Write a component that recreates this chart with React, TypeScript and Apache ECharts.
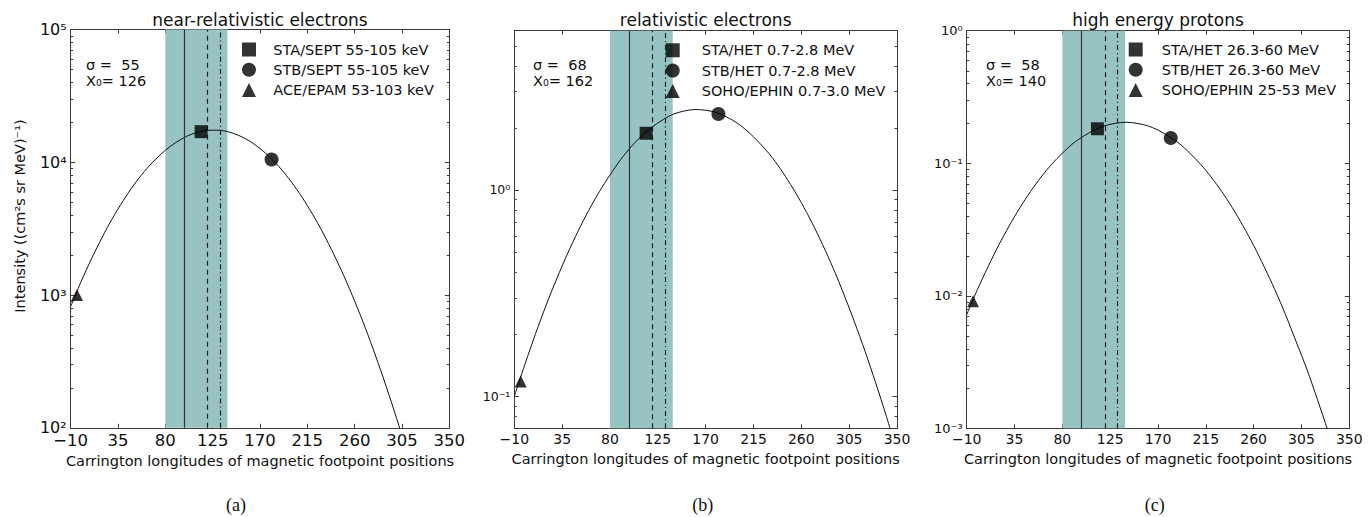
import React, { useEffect, useRef } from "react";
import * as echarts from "echarts";

// ---------- data ----------
const X_MIN = -10;
const X_MAX = 350;
const X_STEP = 45;

const TITLES = ["near-relativistic electrons", "relativistic electrons", "high energy protons"];
const SIGMAS = [55, 68, 58];
const X0S = [126, 162, 140];
const CAPTIONS = ["(a)", "(b)", "(c)"];

const Y_MIN = [100, 0.07, 0.001];
const Y_MAX = [100000, 5.9, 1];

// fitted curves
const CURVE_X = [-10, 0, 10, 20, 30, 40, 50, 60, 70, 80, 90, 100, 110, 120, 130, 140, 150, 160, 170, 180, 190, 200, 210, 220, 230, 240, 250, 260, 270, 280, 290, 300, 310, 320, 330, 340, 350];
const CURVE_A = [820, 1270, 1890, 2730, 3820, 5150, 6740, 8520, 10400, 12300, 14100, 15650, 16800, 17400, 17450, 16950, 15900, 14450, 12700, 10800, 8900, 7080, 5450, 4060, 2930, 2040, 1380, 900, 570, 347, 205, 117, 65, 35, 18, 9, 4.4];
const CURVE_B = [0.1, 0.143, 0.201, 0.277, 0.372, 0.49, 0.631, 0.795, 0.98, 1.18, 1.4, 1.62, 1.83, 2.02, 2.19, 2.33, 2.41, 2.45, 2.43, 2.37, 2.25, 2.1, 1.91, 1.7, 1.49, 1.27, 1.06, 0.867, 0.694, 0.543, 0.417, 0.312, 0.229, 0.165, 0.116, 0.08, 0.054];
const CURVE_C = [0.0072, 0.0111, 0.0165, 0.024, 0.0337, 0.0461, 0.0611, 0.0787, 0.0984, 0.119, 0.141, 0.16, 0.178, 0.192, 0.2, 0.204, 0.2, 0.192, 0.178, 0.16, 0.141, 0.119, 0.0984, 0.0787, 0.0611, 0.0461, 0.0337, 0.024, 0.0165, 0.0111, 0.0072, 0.0045, 0.0028, 0.00165, 0.00095, 0.00053, 0.00029];
const CURVES = [CURVE_A, CURVE_B, CURVE_C];

// spacecraft measurements
const NAMES_A = ["STA/SEPT 55-105 keV", "STB/SEPT 55-105 keV", "ACE/EPAM 53-103 keV"];
const NAMES_B = ["STA/HET 0.7-2.8 MeV", "STB/HET 0.7-2.8 MeV", "SOHO/EPHIN 0.7-3.0 MeV"];
const NAMES_C = ["STA/HET 26.3-60 MeV", "STB/HET 26.3-60 MeV", "SOHO/EPHIN 25-53 MeV"];
const NAMES = [NAMES_A, NAMES_B, NAMES_C];

const STA_X = [114, 114, 113];
const STA_Y = [17000, 1.88, 0.182];
const STB_X = [181, 182, 182];
const STB_Y = [10500, 2.33, 0.155];
const THIRD_X = [-4, -4, -4];
const THIRD_Y = [1000, 0.118, 0.0091];

// vertical markers (longitudes)
const BAND = [80, 139];
const SOLID_X = 98;
const DASHED_X = 120;
const DASHDOT_X = 132;

// log-axis minor tick values
const MINOR_A = [200, 300, 400, 500, 600, 700, 800, 900, 2000, 3000, 4000, 5000, 6000, 7000, 8000, 9000, 20000, 30000, 40000, 50000, 60000, 70000, 80000, 90000];
const MINOR_B = [0.08, 0.09, 0.2, 0.3, 0.4, 0.5, 0.6, 0.7, 0.8, 0.9, 2, 3, 4, 5];
const MINOR_C = [0.002, 0.003, 0.004, 0.005, 0.006, 0.007, 0.008, 0.009, 0.02, 0.03, 0.04, 0.05, 0.06, 0.07, 0.08, 0.09, 0.2, 0.3, 0.4, 0.5, 0.6, 0.7, 0.8, 0.9];
const MINORS = [MINOR_A, MINOR_B, MINOR_C];

// ---------- layout / style ----------
const LAYOUT = [
  { left: 70.7, top: 29.5, width: 378.6, height: 398.3 },
  { left: 514.3, top: 30.7, width: 382.7, height: 397.6 },
  { left: 966.7, top: 30.7, width: 382.6, height: 397.6 },
];
const XLABEL_SIZE = [16.5, 14, 14];
const YLABEL_SIZE = [16, 12.5, 13];
const LEGEND_POS = [
  { left: 242, top: 42, pad: 12.3 },
  { left: 665.7, top: 42.8, pad: 17 },
  { left: 1128.7, top: 42, pad: 14 },
];
const ANNOT_X = [86, 533, 986];
const CAPTION_X = [236, 702.7, 1154.7];
const FONT = "DejaVu Sans";
const AXIS_COLOR = "#3a3a3a";
const BAND_COLOR = "#97c3c3";

const SUP: Record<string, string> = {
  "-": "⁻", "0": "⁰", "1": "¹", "2": "²", "3": "³", "4": "⁴", "5": "⁵", "6": "⁶", "7": "⁷", "8": "⁸", "9": "⁹",
};
function powLabel(v: number): string {
  const l = Math.log10(v);
  const e = Math.round(l);
  if (Math.abs(l - e) > 1e-6) return "";
  return "10" + String(e).split("").map((c) => SUP[c]).join("");
}
function xLabel(v: number): string {
  return v < 0 ? "−" + Math.abs(v) : String(v);
}

function buildOption() {
  const grid: any[] = [];
  const xAxis: any[] = [];
  const yAxis: any[] = [];
  const series: any[] = [];
  const legend: any[] = [];
  const graphic: any[] = [];

  for (let i = 0; i < 3; i++) {
    const L = LAYOUT[i];
    grid.push({ left: L.left, top: L.top, width: L.width, height: L.height, containLabel: false });

    const xBase = {
      type: "value",
      gridIndex: i,
      min: X_MIN,
      max: X_MAX,
      interval: X_STEP,
      splitLine: { show: false },
      axisLine: { show: true, onZero: false, lineStyle: { color: AXIS_COLOR, width: 1 } },
      axisTick: { show: true, inside: true, length: 4, lineStyle: { color: AXIS_COLOR } },
    };
    xAxis.push({
      ...xBase,
      position: "bottom",
      name: "Carrington longitudes of magnetic footpoint positions",
      nameLocation: "middle",
      nameGap: 21,
      nameTextStyle: { fontFamily: FONT, fontSize: 14.5, color: "#111" },
      axisLabel: { show: true, margin: 4, formatter: xLabel, fontFamily: FONT, fontSize: XLABEL_SIZE[i], color: "#111" },
    });
    xAxis.push({ ...xBase, position: "top", axisLabel: { show: false } });

    const yBase = {
      type: "log",
      logBase: 10,
      gridIndex: i,
      min: Y_MIN[i],
      max: Y_MAX[i],
      splitLine: { show: false },
      axisLine: { show: true, onZero: false, lineStyle: { color: AXIS_COLOR, width: 1 } },
      axisTick: { show: true, inside: true, length: 4.5, lineStyle: { color: AXIS_COLOR } },
    };
    yAxis.push({
      ...yBase,
      position: "left",
      axisLabel: { show: true, margin: 4, formatter: powLabel, fontFamily: FONT, fontSize: YLABEL_SIZE[i], color: "#111" },
    });
    yAxis.push({ ...yBase, position: "right", axisLabel: { show: false } });

    // fitted curve with band and vertical lines
    series.push({
      type: "line",
      name: "fit" + i,
      xAxisIndex: 2 * i,
      yAxisIndex: 2 * i,
      data: CURVE_X.map((x, k) => [x, CURVES[i][k]]),
      showSymbol: false,
      smooth: 0.3,
      clip: true,
      silent: true,
      z: 3,
      lineStyle: { color: "#111", width: 1 },
      markArea: {
        silent: true,
        itemStyle: { color: BAND_COLOR, opacity: 1 },
        data: [[{ xAxis: BAND[0] }, { xAxis: BAND[1] }]],
      },
      markLine: {
        silent: true,
        symbol: "none",
        label: { show: false },
        animation: false,
        data: [
          { xAxis: SOLID_X, lineStyle: { type: "solid", color: "#333", width: 1.2 } },
          { xAxis: DASHED_X, lineStyle: { type: [5, 4], color: "#222", width: 1.2 } },
          { xAxis: DASHDOT_X, lineStyle: { type: [5, 3, 1.2, 3], color: "#222", width: 1.2 } },
        ],
      },
    });

    const pts = [
      { name: NAMES[i][0], symbol: "rect", size: 13, x: STA_X[i], y: STA_Y[i] },
      { name: NAMES[i][1], symbol: "circle", size: 14, x: STB_X[i], y: STB_Y[i] },
      { name: NAMES[i][2], symbol: "triangle", size: 12, x: THIRD_X[i], y: THIRD_Y[i] },
    ];
    pts.forEach((p) => {
      series.push({
        type: "scatter",
        name: p.name,
        xAxisIndex: 2 * i,
        yAxisIndex: 2 * i,
        symbol: p.symbol,
        symbolSize: p.size,
        itemStyle: { color: "#000" },
        data: [[p.x, p.y]],
        z: 5,
        clip: false,
      });
    });

    // minor ticks of the log axis (left and right)
    series.push({
      type: "custom",
      name: "minor" + i,
      xAxisIndex: 2 * i,
      yAxisIndex: 2 * i,
      silent: true,
      clip: false,
      z: 6,
      data: MINORS[i].map((v) => [X_MIN, v]),
      renderItem: (params: any, api: any) => {
        const p = api.coord([api.value(0), api.value(1)]);
        const cs = params.coordSys;
        const y = Math.round(p[1]) + 0.5;
        return {
          type: "group",
          children: [
            { type: "line", shape: { x1: cs.x, y1: y, x2: cs.x + 2.5, y2: y }, style: { stroke: AXIS_COLOR, lineWidth: 1 } },
            { type: "line", shape: { x1: cs.x + cs.width - 2.5, y1: y, x2: cs.x + cs.width, y2: y }, style: { stroke: AXIS_COLOR, lineWidth: 1 } },
          ],
        };
      },
    });

    const LP = LEGEND_POS[i];
    legend.push({
      data: NAMES[i],
      orient: "vertical",
      left: LP.left,
      top: LP.top,
      itemWidth: 14,
      itemHeight: 14,
      itemGap: 5.3,
      selectedMode: false,
      padding: 0,
      textStyle: { fontFamily: FONT, fontSize: 14.5, color: "#111", padding: [0, 0, 0, LP.pad] },
    });

    // title
    graphic.push({
      type: "text",
      x: L.left + L.width / 2,
      y: 19.5,
      style: { text: TITLES[i], fontFamily: FONT, fontSize: 17, fill: "#111", align: "center", verticalAlign: "middle" },
    });
    // sigma / X0 annotation
    graphic.push({
      type: "text",
      x: ANNOT_X[i],
      y: 64.5,
      style: { text: "σ =  " + SIGMAS[i], fontFamily: FONT, fontSize: 14.5, fill: "#111", align: "left", verticalAlign: "middle" },
    });
    graphic.push({
      type: "text",
      x: ANNOT_X[i],
      y: 80.5,
      style: { text: "X₀= " + X0S[i], fontFamily: FONT, fontSize: 14.5, fill: "#111", align: "left", verticalAlign: "middle" },
    });
    // caption
    graphic.push({
      type: "text",
      x: CAPTION_X[i],
      y: 505,
      style: { text: CAPTIONS[i], fontFamily: "Liberation Serif", fontSize: 18, fill: "#111", align: "center", verticalAlign: "middle" },
    });
  }

  // y-axis title
  graphic.push({
    type: "text",
    x: 20,
    y: 216,
    rotation: Math.PI / 2,
    style: {
      text: "Intensity ((cm²s sr MeV)⁻¹)",
      fontFamily: FONT,
      fontSize: 14.5,
      fill: "#111",
      align: "center",
      verticalAlign: "middle",
    },
  });

  return {
    animation: false,
    backgroundColor: "#ffffff",
    grid,
    xAxis,
    yAxis,
    legend,
    series,
    graphic,
  };
}

export default function App() {
  const ref = useRef<HTMLDivElement>(null);
  useEffect(() => {
    if (!ref.current) return;
    const chart = echarts.init(ref.current, undefined, { renderer: "svg" });
    chart.setOption(buildOption() as any);
    return () => chart.dispose();
  }, []);
  return (
    <div
      ref={ref}
      style={{ position: "fixed", left: 0, top: 0, width: 1370, height: 517, background: "#fff" }}
    />
  );
}
